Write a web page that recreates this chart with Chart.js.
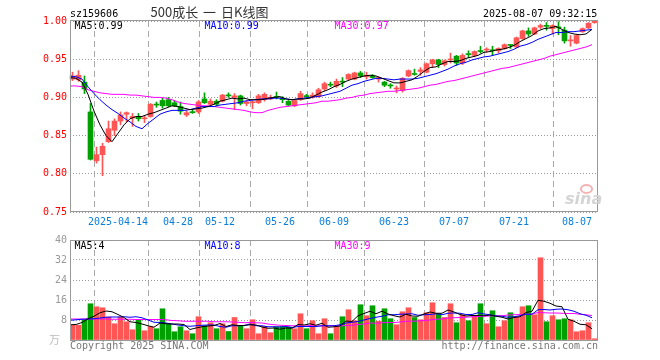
<!DOCTYPE html>
<html><head><meta charset="utf-8">
<script src="https://cdn.jsdelivr.net/npm/chart.js@4.4.1/dist/chart.umd.min.js"></script>
<style>
html,body{margin:0;padding:0;background:#fff;}
#wrap{position:relative;width:660px;height:360px;overflow:hidden;background:#fff;}
canvas{position:absolute;left:0;}
.t{position:absolute;font-family:"DejaVu Sans Mono",monospace;font-size:10px;line-height:10px;white-space:pre;}
</style></head><body>
<div id="wrap">
<canvas id="k" width="660" height="232" style="top:0px"></canvas>
<canvas id="v" width="660" height="120" style="top:230px"></canvas>
<div class="t" style="left:70px;top:9px;color:#000">sz159606</div>
<div style="position:absolute;left:0;width:419px;text-align:center;top:4.5px;font-family:'Noto Sans CJK SC';font-size:13px;line-height:13px;color:#333;word-spacing:2px;white-space:pre">500成长 一 日K线图</div>
<div class="t" style="left:483px;top:9px;color:#000">2025-08-07 09:32:15</div>
<div class="t" id="l1" style="left:74.5px;top:21px;color:#000"></div>
<div class="t" id="l2" style="left:204.5px;top:21px;color:#0000ff"></div>
<div class="t" id="l3" style="left:334.5px;top:21px;color:#ff00ff"></div>
<div class="t" id="l4" style="left:74.5px;top:241px;color:#000"></div>
<div class="t" id="l5" style="left:204.5px;top:241px;color:#0000ff"></div>
<div class="t" id="l6" style="left:334.5px;top:241px;color:#ff00ff"></div>
<div style="position:absolute;left:49px;top:334px;font-family:'Noto Sans CJK SC';font-size:11px;line-height:11px;color:#bbb">万</div>
<div class="t" style="left:70px;top:340.5px;color:#777">Copyright 2025 SINA.COM</div>
<div class="t" style="left:441.5px;top:340.5px;color:#777">http://finance.sina.com.cn</div>
<div style="position:absolute;left:580px;top:184px;width:9px;height:6px;border:2px solid #f3b4b4;border-radius:50%"></div>
<div style="position:absolute;left:565px;top:191px;font-family:'DejaVu Sans';font-style:italic;font-weight:bold;font-size:16px;line-height:16px;color:#d4d4d4">sina</div>
</div>
<script>
const dates = ['2025-04-14','04-28','05-12','05-26','06-09','06-23','07-07','07-21','08-07'];
const tickIdx = [0,8,18,25,35,44,54,64,74,87];
const tickLabels = [''].concat(dates);
const yTicks = [0.75,0.80,0.85,0.90,0.95,1.00];
const volTicks = [0,8,16,24,32,40];
const volTickLabels = ['','8','16','24','32','40'];
const legendMain = ['MA5:0.99','MA10:0.99','MA30:0.97'];
const legendVol = ['MA5:4','MA10:8','MA30:9'];

const opens  = [0.924,0.923,0.920,0.881,0.817,0.825,0.842,0.857,0.869,0.878,
0.873,0.874,0.872,0.875,0.891,0.896,0.897,0.893,0.888,0.877,
0.881,0.881,0.898,0.891,0.895,0.895,0.903,0.900,0.902,0.892,
0.893,0.893,0.897,0.898,0.901,0.899,0.895,0.889,0.897,0.902,
0.900,0.901,0.911,0.917,0.915,0.921,0.924,0.924,0.932,0.927,
0.928,0.924,0.920,0.916,0.911,0.909,0.928,0.931,0.934,0.933,
0.944,0.949,0.943,0.949,0.954,0.945,0.957,0.955,0.961,0.962,
0.962,0.961,0.964,0.969,0.966,0.977,0.987,0.983,0.992,0.994,
0.990,0.992,0.988,0.974,0.971,0.986,0.991,0.998];
const highs  = [0.933,0.935,0.928,0.892,0.835,0.840,0.869,0.872,0.881,0.881,
0.879,0.879,0.876,0.892,0.894,0.899,0.900,0.896,0.894,0.883,
0.884,0.896,0.906,0.898,0.897,0.904,0.906,0.905,0.903,0.896,
0.895,0.904,0.906,0.903,0.907,0.901,0.896,0.897,0.908,0.904,
0.906,0.912,0.920,0.920,0.924,0.926,0.931,0.933,0.934,0.933,
0.930,0.927,0.921,0.918,0.915,0.926,0.936,0.937,0.939,0.945,
0.950,0.950,0.949,0.958,0.955,0.957,0.961,0.961,0.967,0.965,
0.967,0.965,0.970,0.969,0.979,0.988,0.991,0.992,0.996,0.998,
0.995,0.999,0.992,0.981,0.982,0.991,0.998,1.001];
const lows   = [0.922,0.921,0.905,0.818,0.814,0.7975,0.841,0.850,0.864,0.868,
0.862,0.869,0.867,0.874,0.887,0.886,0.888,0.888,0.878,0.875,
0.879,0.879,0.892,0.889,0.889,0.894,0.900,0.884,0.890,0.889,
0.885,0.892,0.895,0.897,0.898,0.893,0.889,0.888,0.896,0.899,
0.899,0.900,0.909,0.914,0.913,0.914,0.923,0.923,0.926,0.924,
0.925,0.920,0.914,0.912,0.906,0.907,0.927,0.929,0.929,0.932,
0.939,0.939,0.941,0.945,0.942,0.943,0.952,0.953,0.958,0.959,
0.955,0.958,0.963,0.964,0.965,0.976,0.980,0.982,0.990,0.988,
0.983,0.982,0.971,0.967,0.970,0.985,0.990,0.997];
const closes = [0.928,0.929,0.911,0.819,0.825,0.836,0.859,0.869,0.877,0.880,
0.875,0.872,0.873,0.891,0.890,0.889,0.889,0.889,0.882,0.880,
0.880,0.894,0.893,0.895,0.891,0.903,0.902,0.902,0.892,0.894,
0.894,0.902,0.904,0.900,0.900,0.897,0.890,0.896,0.905,0.901,
0.903,0.910,0.918,0.916,0.921,0.920,0.930,0.932,0.928,0.929,
0.926,0.926,0.916,0.915,0.912,0.925,0.935,0.930,0.936,0.944,
0.949,0.943,0.948,0.950,0.945,0.955,0.956,0.960,0.960,0.963,
0.961,0.964,0.969,0.968,0.978,0.987,0.983,0.991,0.994,0.993,
0.994,0.991,0.974,0.975,0.981,0.990,0.997,1.000];
const ma5 = [0.926,0.925,0.920,0.904,0.882,0.864,0.850,0.842,0.853,0.864,
0.872,0.875,0.875,0.878,0.880,0.883,0.886,0.889,0.888,0.886,
0.884,0.885,0.886,0.888,0.891,0.895,0.897,0.899,0.898,0.899,
0.897,0.897,0.897,0.899,0.900,0.901,0.898,0.897,0.898,0.898,
0.899,0.903,0.907,0.910,0.914,0.917,0.921,0.924,0.926,0.928,
0.929,0.928,0.925,0.922,0.919,0.919,0.921,0.923,0.928,0.934,
0.939,0.940,0.944,0.947,0.947,0.948,0.951,0.953,0.955,0.959,
0.960,0.962,0.963,0.965,0.968,0.973,0.977,0.981,0.987,0.990,
0.991,0.993,0.989,0.985,0.983,0.982,0.983,0.989];
const ma10 = [0.928,0.927,0.924,0.914,0.905,0.897,0.890,0.884,0.879,0.873,
0.868,0.862,0.859,0.866,0.872,0.878,0.881,0.883,0.883,0.883,
0.884,0.886,0.888,0.888,0.888,0.890,0.891,0.892,0.893,0.895,
0.896,0.897,0.898,0.898,0.899,0.899,0.898,0.897,0.898,0.899,
0.900,0.901,0.902,0.904,0.906,0.908,0.912,0.916,0.918,0.921,
0.923,0.925,0.925,0.924,0.923,0.924,0.924,0.924,0.925,0.927,
0.929,0.931,0.934,0.937,0.941,0.944,0.946,0.949,0.951,0.953,
0.954,0.956,0.958,0.960,0.963,0.967,0.969,0.972,0.976,0.979,
0.982,0.985,0.985,0.986,0.986,0.987,0.988,0.989];
const ma30 = [0.915,0.915,0.914,0.910,0.908,0.906,0.905,0.904,0.904,0.904,
0.903,0.903,0.902,0.901,0.900,0.900,0.899,0.897,0.894,0.892,
0.891,0.890,0.889,0.889,0.888,0.887,0.886,0.885,0.884,0.883,
0.881,0.880,0.880,0.883,0.885,0.887,0.888,0.889,0.890,0.891,
0.892,0.893,0.895,0.895,0.896,0.897,0.899,0.900,0.902,0.903,
0.905,0.906,0.907,0.908,0.908,0.909,0.910,0.911,0.912,0.914,
0.916,0.917,0.919,0.921,0.922,0.924,0.926,0.928,0.930,0.932,
0.934,0.936,0.938,0.939,0.941,0.943,0.945,0.947,0.949,0.951,
0.954,0.956,0.958,0.960,0.962,0.964,0.966,0.969];
const volume = [5.9,5.9,8.1,14.5,13.3,12.9,9.2,6.5,9.2,7.3,
4.1,7.9,3.7,5.4,4.5,12.5,6.4,3.3,5.3,3.7,
2.5,9.3,5.7,6.9,4.5,6.5,3.4,9.0,5.7,4.5,
8.1,2.5,5.4,2.9,5.3,5.4,5.2,4.5,10.5,4.5,
7.7,2.5,8.5,2.5,5.4,9.3,12.1,7.7,14.1,9.7,
13.7,7.5,12.5,8.5,6.1,11.3,12.9,9.0,8.1,10.9,
14.9,10.5,9.0,14.5,6.9,10.1,7.7,9.7,14.5,6.5,
11.7,5.3,7.7,10.9,9.3,13.3,13.7,10.1,32.9,7.3,
9.7,8.1,8.5,8.1,3.3,3.7,6.9,0.5];
const vma5 = [6.1,6.2,7.0,8.5,9.5,10.9,11.6,11.3,10.2,9.0,
7.3,7.0,6.4,5.7,5.1,6.8,6.5,6.4,6.4,6.2,
4.2,4.8,5.3,5.6,5.8,6.6,5.4,6.1,5.8,5.8,
6.1,6.0,5.2,4.7,4.8,4.3,4.8,4.7,6.2,6.0,
6.5,5.9,6.7,5.1,5.3,5.6,7.6,7.4,9.7,10.6,
11.5,10.5,11.5,10.4,9.7,9.2,10.3,9.6,9.5,10.4,
11.2,10.7,10.7,12.0,11.2,10.2,9.6,9.8,9.8,9.7,
10.0,9.5,9.1,8.4,9.0,9.3,11.0,11.5,15.9,15.5,
14.7,13.6,13.3,8.3,7.5,6.3,6.1,4.5];
const vma10 = [7.9,8.1,8.3,8.4,8.5,8.8,9.1,9.2,9.2,9.3,
9.1,9.3,8.9,8.0,7.1,7.0,6.8,6.4,6.0,5.7,
5.5,5.7,5.9,6.0,6.0,5.4,5.1,5.7,5.7,5.8,
6.4,5.7,5.7,5.3,5.3,5.2,5.4,5.0,5.4,5.4,
5.4,5.4,5.7,5.7,5.7,6.1,6.8,7.1,7.4,8.0,
8.6,9.1,9.5,10.1,10.1,10.3,10.4,10.5,9.9,10.1,
10.2,10.5,10.1,10.7,10.8,10.7,10.2,10.2,10.9,10.4,
10.1,9.6,9.5,9.1,9.3,9.7,10.3,10.3,12.1,12.2,
12.0,12.3,12.4,12.1,11.5,10.5,9.9,8.9];
const vma30 = [8.4,8.4,8.4,8.4,8.4,8.4,8.4,8.3,8.3,8.3,
8.3,8.2,8.2,8.2,8.2,8.2,8.1,7.8,7.7,7.5,
7.5,7.5,7.5,7.5,7.3,7.3,7.3,7.2,7.1,6.9,
7.0,6.9,6.8,6.4,6.1,5.9,5.8,5.7,5.7,5.6,
5.8,5.6,5.7,5.6,5.7,5.6,5.8,5.9,6.2,6.4,
6.8,6.7,6.9,7.0,7.0,7.2,7.5,7.5,7.6,7.8,
8.0,8.3,8.4,8.8,8.9,9.0,9.1,9.3,9.4,9.5,
9.6,9.7,9.7,10.0,10.1,10.2,10.3,10.4,11.0,10.9,
10.8,10.8,10.7,10.6,10.6,10.3,10.1,9.8];

['l1','l2','l3'].forEach((id,i)=>document.getElementById(id).textContent=legendMain[i]);
['l4','l5','l6'].forEach((id,i)=>document.getElementById(id).textContent=legendVol[i]);

const RED = '#ff5555', GREEN = '#00a000';
const OFF = 2.5/6;
const XMAX = 527/6;
const colors = closes.map((c,i)=> c >= opens[i] ? RED : GREEN);
const FONT = {family:'DejaVu Sans Mono', size:10};

function frame(y0, y1){
  return {id:'frame', afterDraw(chart){
    const c = chart.ctx; c.save(); c.strokeStyle = '#999'; c.lineWidth = 1;
    c.strokeRect(70.5, y0, 527, y1 - y0); c.restore();
  }};
}
function line(arr, color){
  return {type:'line', data: arr.map((y,i)=>({x:i, y})), borderColor: color, borderWidth:1,
    pointRadius:0, tension:0, fill:false, clip:2};
}

new Chart(document.getElementById('k'), {
  type:'bar',
  data:{datasets:[
    Object.assign(line(ma5,'#000000'),{order:1}),
    Object.assign(line(ma10,'#0000ff'),{order:2}),
    Object.assign(line(ma30,'#ff00ff'),{order:3}),
    {type:'bar', order:4, data: opens.map((o,i)=>({x:i+OFF, y:[o, closes[i]]})), backgroundColor: colors,
      barThickness:5, minBarLength:1, grouped:false, clip:3},
    {type:'bar', order:5, data: lows.map((l,i)=>({x:i+OFF, y:[l, highs[i]]})), backgroundColor: colors,
      barThickness:1, minBarLength:1, grouped:false, clip:3}
  ]},
  options:{
    animation:false, responsive:false, devicePixelRatio:1, events:[],
    layout:{padding:{top:21, right:63, left:0, bottom:0}},
    plugins:{legend:{display:false}, tooltip:{enabled:false}},
    scales:{
      x:{type:'linear', min:0, max:XMAX, offset:false,
        afterBuildTicks: s => { s.ticks = tickIdx.map(v=>({value:v})); },
        afterFit: s => { s.height = 20; },
        ticks:{autoSkip:false, maxRotation:0, minRotation:0, align:'inner', padding:4, color:'#0a7fd9', font:FONT,
          callback:(v,i)=>tickLabels[i]},
        grid:{color:'#aaaaaa', lineWidth:1, drawTicks:false},
        border:{display:false, dash:[6,4]}},
      y:{min:0.75, max:1.0,
        afterBuildTicks: s => { s.ticks = yTicks.map(v=>({value:v})); },
        afterFit: s => { s.width = 70; },
        ticks:{padding:3, color:'#ff0000', font:FONT, callback:v=>Number(v).toFixed(2)},
        grid:{color:'#999999', lineWidth:1, drawTicks:false},
        border:{display:false, dash:[1,2]}}
    }
  },
  plugins:[frame(20.5, 211.5)]
});

new Chart(document.getElementById('v'), {
  type:'bar',
  data:{datasets:[
    Object.assign(line(vma5,'#000000'),{order:1}),
    Object.assign(line(vma10,'#0000ff'),{order:2}),
    Object.assign(line(vma30,'#ff00ff'),{order:3}),
    {type:'bar', order:4, data: volume.map((v,i)=>({x:i+OFF, y:v})), backgroundColor: colors,
      barThickness:5, grouped:false}
  ]},
  options:{
    animation:false, responsive:false, devicePixelRatio:1, events:[],
    layout:{padding:{top:10, right:63, left:0, bottom:0}},
    plugins:{legend:{display:false}, tooltip:{enabled:false}},
    scales:{
      x:{type:'linear', min:0, max:XMAX, offset:false,
        afterBuildTicks: s => { s.ticks = tickIdx.map(v=>({value:v})); },
        afterFit: s => { s.height = 10; },
        ticks:{display:false},
        grid:{color:'#aaaaaa', lineWidth:1, drawTicks:false},
        border:{display:false, dash:[6,4]}},
      y:{min:0, max:40,
        afterBuildTicks: s => { s.ticks = volTicks.map(v=>({value:v})); },
        afterFit: s => { s.width = 70; },
        ticks:{padding:3, color:'#999999', font:FONT, callback:(v,i)=>volTickLabels[i]},
        grid:{color:'#999999', lineWidth:1, drawTicks:false},
        border:{display:false, dash:[1,2]}}
    }
  },
  plugins:[frame(10.5, 110.5)]
});
</script>
</body></html>
